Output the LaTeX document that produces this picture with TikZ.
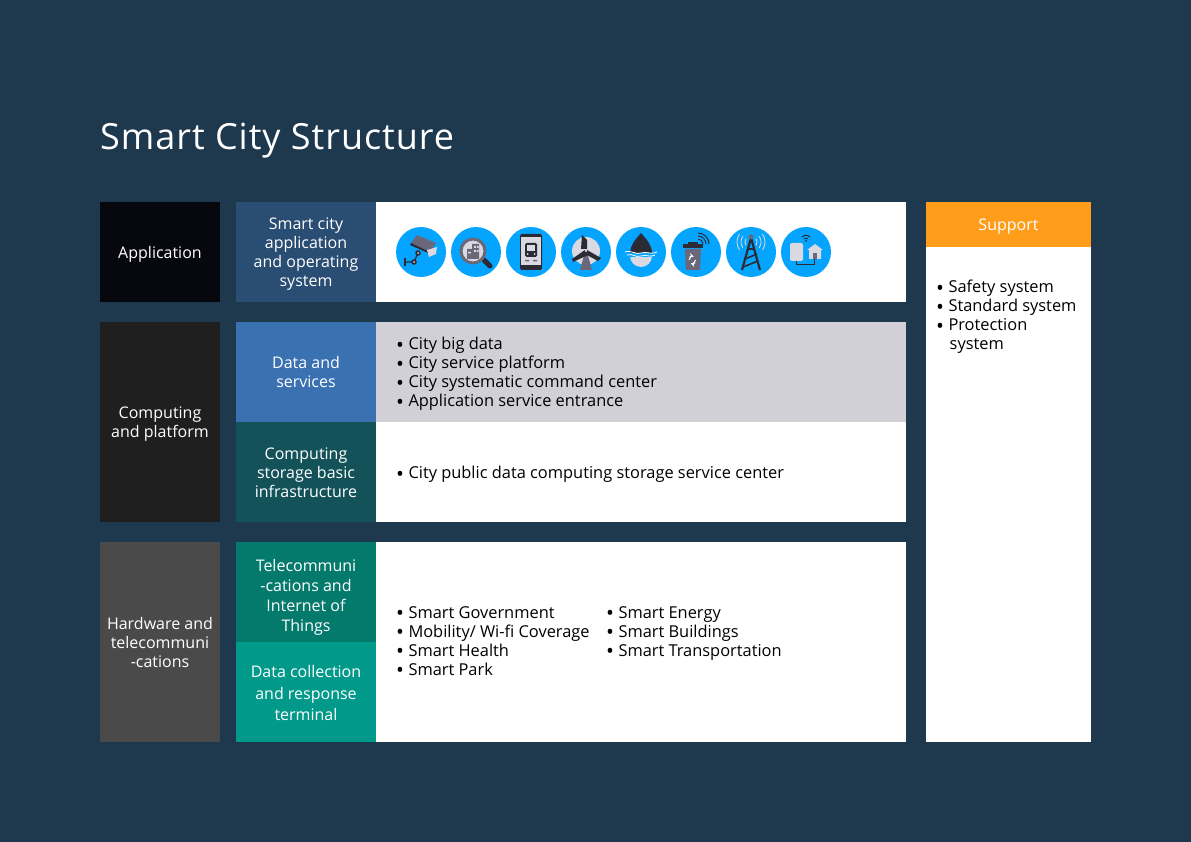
\documentclass[tikz,border=0pt]{standalone}
\usepackage{fontspec}
\setmainfont{Open Sans}
\newfontfamily\titlefont[LetterSpace=2.7]{Open Sans}
\definecolor{pagebg}{HTML}{1E384E}
\definecolor{appdark}{HTML}{07070F}
\definecolor{compdark}{HTML}{1F1F1F}
\definecolor{harddark}{HTML}{4A4A4A}
\definecolor{citybar}{HTML}{2A4D73}
\definecolor{databar}{HTML}{3A71B1}
\definecolor{storebar}{HTML}{14525A}
\definecolor{telebar}{HTML}{047A6C}
\definecolor{termbar}{HTML}{00998A}
\definecolor{greyband}{HTML}{D1D0D6}
\definecolor{supportbar}{HTML}{FF9D1B}
\definecolor{iconblue}{HTML}{05A5FF}
\definecolor{icondark}{HTML}{2B2B36}
\definecolor{icongrey}{HTML}{6A6878}
\definecolor{iconlight}{HTML}{DAD9E2}
\tikzset{
  band/.style={anchor=north west,inner sep=0pt,outer sep=0pt,align=center,text=white,
    minimum width=#1,font=\fontsize{16}{19}\selectfont},
  bullets/.style={anchor=north west,inner sep=0pt,align=left,text=black,font=\fontsize{16.4}{19}\selectfont},
  iconcircle/.style={fill=iconblue,draw=none}
}
\newcommand{\bul}{\makebox[12.3pt][l]{\smash{\raisebox{-2.6pt}{\fontsize{21}{19}\selectfont•}}}}
\newcommand{\hang}{\hspace*{13.5pt}}
\begin{document}
\begin{tikzpicture}[x=1pt,y=-1pt]
	\useasboundingbox[fill=pagebg] (0,0) rectangle (1191,842);
	\node[anchor=west,inner sep=0pt,text=white,font=\fontsize{36}{40}\selectfont\titlefont] (title) at (100,141) {Smart City Structure};
	% left column
	\node[band=120pt,minimum height=100pt,fill=appdark,text depth=0pt] (application) at (100,202) {Application};
	\node[band=120pt,minimum height=200pt,fill=compdark,text depth=0pt] (computing) at (100,322) {Computing\\and platform};
	\node[band=120pt,minimum height=200pt,fill=harddark] (hardware) at (100,542) {Hardware and\\telecommuni\\-cations};
	% middle column
	\node[band=140pt,minimum height=100pt,fill=citybar,text depth=0pt] (cityapp) at (236,202) {Smart city\\application\\and operating\\system};
	\node[band=140pt,minimum height=100pt,fill=databar] (dataserv) at (236,322) {Data and\\services};
	\node[band=140pt,minimum height=100pt,fill=storebar,text height=50.5pt,text depth=0pt] (storage) at (236,422) {Computing\\storage basic\\infrastructure};
	\node[band=140pt,minimum height=100pt,fill=telebar,font=\fontsize{16}{20}\selectfont,text height=79pt,text depth=0pt] (telecom) at (236,542) {Telecommuni\\-cations and\\Internet of\\Things};
	\node[band=140pt,minimum height=100pt,fill=termbar,font=\fontsize{16}{21.5}\selectfont,text height=57.5pt,text depth=0pt] (terminal) at (236,642) {Data collection\\and response\\terminal};
	% right bands
	\node[band=530pt,minimum height=100pt,fill=white] (iconband) at (376,202) {};
	\node[band=530pt,minimum height=100pt,fill=greyband] (databand) at (376,322) {};
	\node[band=530pt,minimum height=100pt,fill=white] (storeband) at (376,422) {};
	\node[band=530pt,minimum height=200pt,fill=white] (smartband) at (376,542) {};
	\node[band=165pt,minimum height=45pt,fill=supportbar,text depth=0pt] (support) at (926,202) {Support};
	\node[band=165pt,minimum height=495pt,fill=white] (supportband) at (926,247) {};
	% lists
	\node[bullets] (datalist) at (396,337) {\bul City big data\\\bul City service platform\\\bul City systematic command center\\\bul Application service entrance};
	\node[bullets] (storelist) at (396,466) {\bul City public data computing storage service center};
	\node[bullets] (smartlista) at (396,606) {\bul Smart Government\\\bul Mobility/ Wi-fi Coverage\\\bul Smart Health\\\bul Smart Park};
	\node[bullets] (smartlistb) at (606,606) {\bul Smart Energy\\\bul Smart Buildings\\\bul Smart Transportation};
	\node[bullets] (supportlist) at (936,280) {\bul Safety system\\\bul Standard system\\\bul Protection\\\hang system};
	% icons
	\foreach \cx in {421,476,531,586,641,696,751,806}
		\fill[iconcircle] (\cx,252) circle(25);
	% camera
	\begin{scope}[shift={(421,252)}]
		\fill[icongrey] (-10,-9)--(-4,-17)--(15,-9)--(9,0)--cycle;
		\fill[icondark] (-10,-9)--(9,0)--(8,1.5)--(-11,-7)--cycle;
		\fill[iconlight] (6,-2)--(16,-5)--(15,2)--(8,5)--cycle;
		\draw[icondark,line width=1.2pt] (-3,1)--(-7,10)--(-16,10);
		\draw[icondark,line width=1.2pt] (-16,6)--(-16,14);
		\fill[icondark] (-3,1) circle(2.8) (-7,10) circle(2.8);
		\fill[iconlight] (-3,1) circle(1) (-7,10) circle(1);
	\end{scope}
	% magnifier
	\begin{scope}[shift={(476,252)}]
		\draw[icondark,line width=5pt,line cap=round] (8,8)--(14,14);
		\fill[iconlight,draw=icongrey,line width=3pt] (-3,-1) circle(12);
		\fill[icongrey] (-9,-3) rectangle (-4,7) (-4,-8) rectangle (3,7);
		\fill[iconlight] (-2,-6) rectangle (0,-4) (1,-6) rectangle (2.5,-4) (-2,-2) rectangle (0,0) (1,-2) rectangle (2.5,0) (-8,0) rectangle (-5,1.5);
	\end{scope}
	% phone with bus
	\begin{scope}[shift={(531,252)}]
		\fill[icondark,rounded corners=2pt] (-11,-18) rectangle (11,18);
		\fill[iconlight] (-10,-15) rectangle (10,13);
		\fill[icondark,rounded corners=1.5pt] (-6,-9) rectangle (6,5);
		\fill[iconlight] (-4,-7) rectangle (4,-1);
		\fill[iconlight] (-3.5,2) circle(1) (3.5,2) circle(1);
		\fill[icongrey] (-6,8) rectangle (-2,9.5) (2,8) rectangle (6,9.5);
	\end{scope}
	% wind turbine
	\begin{scope}[shift={(586,252)}]
		\fill[iconlight] (0,-1) circle(14);
		\fill[icongrey] (-6,18)--(6,18)--(1,0)--(-1,0)--cycle;
		\fill[icondark] (-5,-3)--(-4,-17)--(1,-12)--(1,-3)--cycle;
		\fill[icondark] (1,-2)--(15,6)--(12,9)--(-1,2)--cycle;
		\fill[icondark] (-1,-2)--(-14,7)--(-13,10)--(2,3)--cycle;
		\fill[iconlight] (0,-1) circle(1.2);
	\end{scope}
	% water drop
	\begin{scope}[shift={(641,252)}]
		\fill[iconlight] (-11,4) arc[start angle=180,end angle=0,radius=11] -- cycle;
		\fill[icondark] (0,-19) .. controls (-6,-12) and (-11,-7) .. (-11,2)--(11,2) .. controls (11,-7) and (6,-12) .. (0,-19)--cycle;
		\fill[iconblue] (-12,1) rectangle (12,5);
		\draw[white,line width=0.8pt] (-16,0) .. controls (-8,-2) and (-6,3) .. (0,1) .. controls (6,-1) and (9,3) .. (16,0);
		\draw[white,line width=0.8pt] (-14,3) .. controls (-8,1) and (-6,6) .. (0,4) .. controls (6,2) and (9,6) .. (14,3);
	\end{scope}
	% smart bin
	\begin{scope}[shift={(696,252)}]
		\fill[icongrey] (-11,-3)--(5,-3)--(4,18)--(-10,18)--cycle;
		\fill[icondark] (-13,-8) rectangle (7,-4);
		\fill[icondark] (-8,-10) rectangle (2,-8);
		\draw[white,line width=1pt,->,>=stealth] (-7,8) arc[start angle=180,end angle=290,radius=3.5];
		\draw[white,line width=1pt,->,>=stealth] (-0.5,8) arc[start angle=0,end angle=110,radius=3.5];
		\foreach \r in {5,8,11}
			\draw[icondark,line width=1pt] (2,-8)++(\r,0) arc[start angle=0,end angle=-90,radius=\r];
	\end{scope}
	% radio tower
	\begin{scope}[shift={(751,252)}]
		\draw[icondark,line width=2.2pt] (-9,18)--(0,-14)--(9,18);
		\draw[icondark,line width=1.6pt] (-6,7)--(6,2) (-8,15)--(7,9) (-3,-3)--(3,-3);
		\fill[icongrey] (0,-15) circle(2.5);
		\foreach \r in {6,10,14} {
			\draw[iconlight,line width=0.8pt] (0,-10)++(-35:\r) arc[start angle=-35,end angle=35,radius=\r];
			\draw[iconlight,line width=0.8pt] (0,-10)++(145:\r) arc[start angle=145,end angle=215,radius=\r];
		}
	\end{scope}
	% smart home
	\begin{scope}[shift={(806,252)}]
		\fill[iconlight,rounded corners=2pt] (-16,-9) rectangle (-3,9);
		\fill[iconlight] (1,-2)--(9,-8)--(17,-2)--(15,-2)--(15,7)--(3,7)--(3,-2)--cycle;
		\fill[icongrey] (7,1) rectangle (11,7);
		\draw[icondark,line width=1pt] (-10,9)--(-10,13)--(8,13)--(8,7);
		\draw[icondark,line width=1pt] (-4,-15) arc[start angle=225,end angle=315,radius=5.7];
		\draw[icondark,line width=1pt] (-2,-13) arc[start angle=225,end angle=315,radius=2.8];
		\fill[icondark] (0,-11) circle(1);
	\end{scope}
\end{tikzpicture}
\end{document}
